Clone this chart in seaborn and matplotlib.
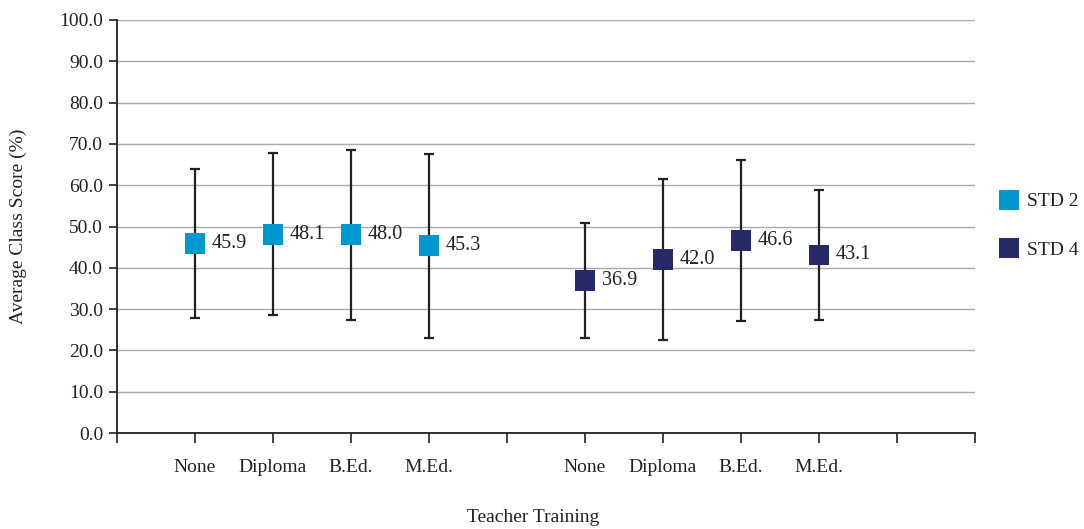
import numpy as np
import pandas as pd
import matplotlib
matplotlib.use("Agg")
import matplotlib.pyplot as plt
import seaborn as sns
from matplotlib.lines import Line2D

# Mean class scores and standard deviations by teacher training level
training = ["None", "Diploma", "B.Ed.", "M.Ed."]
groups = ["STD 2", "STD 4"]
std2_mean = [45.9, 48.1, 48.0, 45.3]
std2_sd = [18.0, 19.6, 20.6, 22.3]
std4_mean = [36.9, 42.0, 46.6, 43.1]
std4_sd = [14.0, 19.6, 19.4, 15.7]
slot_pos = [1, 2, 3, 4, 6, 7, 8, 9]
colors = {"STD 2": "#0098cf", "STD 4": "#262a69"}

df = pd.DataFrame({
    "group": ["STD 2"] * 4 + ["STD 4"] * 4,
    "training": training * 2,
    "mean": std2_mean + std4_mean,
    "sd": std2_sd + std4_sd,
    "pos": slot_pos,
})

sns.set_theme(style="white")
plt.rcParams["font.family"] = ["Liberation Serif", "DejaVu Serif"]

fig = plt.figure(figsize=(10.84, 5.29), dpi=100)
ax = fig.add_axes([117 / 1084, 1 - 433 / 529, (975 - 117) / 1084, (433 - 20) / 529])

# error bars (± SD)
ax.errorbar(df["pos"], df["mean"], yerr=df["sd"], fmt="none",
            ecolor="#222222", elinewidth=1.6, capsize=3.5, capthick=1.6, zorder=2)

sns.scatterplot(data=df, x="pos", y="mean", hue="group", palette=colors,
                marker="s", s=225, linewidth=0, ax=ax, legend=False, zorder=3)

for _, r in df.iterrows():
    ax.annotate(f"{r['mean']:.1f}", (r["pos"], r["mean"]), xytext=(12, 0),
                textcoords="offset points", va="center", ha="left",
                fontsize=14.5, color="#222222")

ax.set_xlim(0, 11)
ax.set_ylim(0, 100)
ax.set_yticks(np.arange(0, 101, 10))
ax.set_yticklabels([f"{v:.1f}" for v in np.arange(0, 101, 10)], fontsize=14, color="#222222")
xt = list(range(0, 12))
xlabels = [""] * 12
for p, t in zip(slot_pos, training * 2):
    xlabels[p] = t
ax.set_xticks(xt)
ax.set_xticklabels(xlabels, fontsize=14, color="#222222")
ax.tick_params(axis="x", direction="out", length=7, width=1.2, pad=12, color="#222222", bottom=True)
ax.tick_params(axis="y", direction="out", length=6, width=1.2, pad=4, color="#222222", left=True)

ax.grid(axis="y", color="#aaaaaa", linewidth=1.0)
ax.set_axisbelow(True)
for s in ["top", "right"]:
    ax.spines[s].set_visible(False)
for s in ["left", "bottom"]:
    ax.spines[s].set_color("#222222")
    ax.spines[s].set_linewidth(1.3)

ax.set_xlabel("")
ax.set_ylabel("")
fig.text(533 / 1084, 1 - 517 / 529, "Teacher Training", ha="center", va="center",
         fontsize=14, color="#222222")
fig.text(18 / 1084, 1 - 226 / 529, "Average Class Score (%)", ha="center", va="center",
         rotation=90, fontsize=14, color="#222222")

handles = [Line2D([], [], marker="s", linestyle="none", markersize=14.5,
                  markerfacecolor=colors[g], markeredgewidth=0) for g in groups]
fig.legend(handles, groups, loc="center left", bbox_to_anchor=(980 / 1084, 1 - 226 / 529),
           frameon=False, fontsize=14, labelspacing=1.6, handletextpad=0.3,
           handlelength=1.2, labelcolor="#222222")

fig.savefig("out.png", dpi=100)
